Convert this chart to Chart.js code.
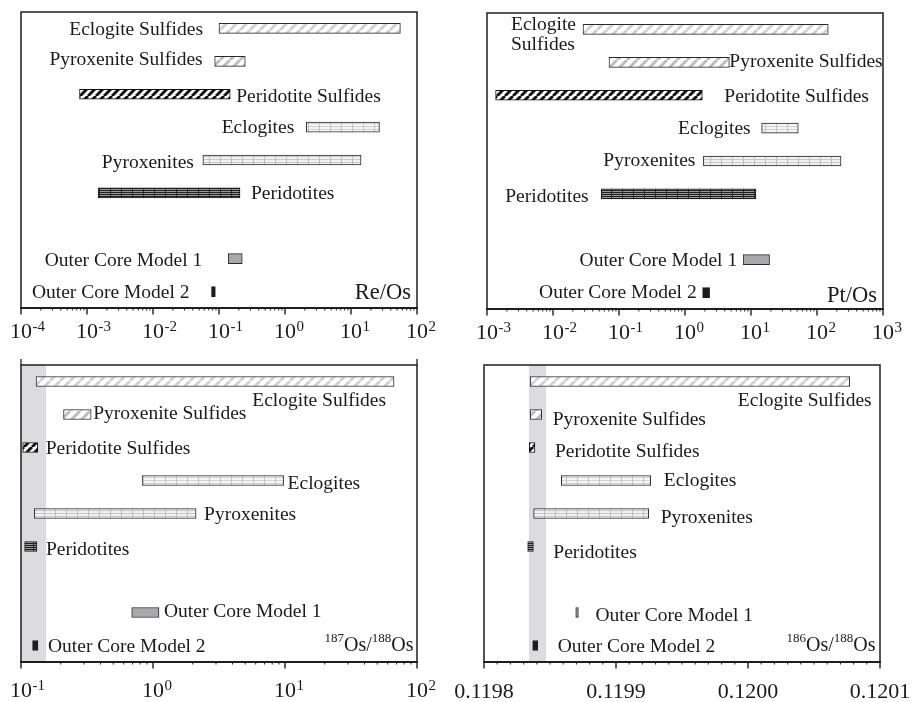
<!DOCTYPE html>
<html>
<head>
<meta charset="utf-8">
<script src="https://cdn.jsdelivr.net/npm/chart.js@4/dist/chart.umd.min.js"></script>
<style>
  html, body { margin: 0; padding: 0; background: #ffffff; }
  #wrap { position: relative; width: 915px; height: 702px; overflow: hidden; }
  #wrap canvas { position: absolute; }
</style>
</head>
<body>
<div id="wrap">
  <canvas id="cReOs"  width="457" height="351" style="left:0;top:0"></canvas>
  <canvas id="cPtOs"  width="458" height="351" style="left:457px;top:0"></canvas>
  <canvas id="cOs187" width="457" height="351" style="left:0;top:351px"></canvas>
  <canvas id="cOs186" width="470" height="351" style="left:445px;top:351px"></canvas>
</div>
<script>
// Rock / sulfide groups, top to bottom ('' is the spacer row above the core models)
const categories = ['Eclogite Sulfides', 'Pyroxenite Sulfides', 'Peridotite Sulfides',
  'Eclogites', 'Pyroxenites', 'Peridotites', '', 'Outer Core Model 1', 'Outer Core Model 2'];

// [min, max] ranges per group
const reOsRanges = [[0.1, 56], [0.086, 0.25], [0.00077, 0.148], [2.1, 27], [0.057, 14.2],
  [0.00147, 0.208], null, [0.138, 0.225], [0.077, 0.088]];
const ptOsRanges = [[0.0285, 148], [0.0705, 4.7], [0.00135, 1.83], [14.5, 52], [1.9, 231],
  [0.054, 11.9], null, [7.6, 19.1], [1.85, 2.36]];
const os187Ranges = [[0.13, 67], [0.21, 0.34], [0.103, 0.134], [0.826, 9.76], [0.126, 2.12],
  [0.1065, 0.132], null, [0.69, 1.11], [0.1224, 0.1345]];
const os186Ranges = [[0.119835, 0.120077], [0.119835, 0.1198437], [0.1198343, 0.1198386],
  [0.1198586, 0.1199263], [0.1198376, 0.1199248], [0.1198331, 0.1198374], null,
  [0.1198695, 0.1198715], [0.1198369, 0.1198407]];

// Primitive-mantle reference bands
const os187Band = [0.1, 0.155];
const os186Band = [0.119834, 0.119847];

// Axis tick labels
const reOsExponents = [-4, -3, -2, -1, 0, 1, 2];
const ptOsExponents = [-3, -2, -1, 0, 1, 2, 3];
const os187Exponents = [-1, 0, 1, 2];
const os186TickLabels = ['0.1198', '0.1199', '0.1200', '0.1201'];

// ---------- fills ----------
function tile(w, h, paint) {
  const c = document.createElement('canvas');
  c.width = w; c.height = h;
  const g = c.getContext('2d');
  paint(g, w, h);
  return g.createPattern(c, 'repeat');
}
function hatch(bg, fg, period, width) {
  return tile(period, period, (g, s) => {
    g.fillStyle = bg; g.fillRect(0, 0, s, s);
    g.strokeStyle = fg; g.lineWidth = width;
    for (const o of [-s, 0, s]) {
      g.beginPath(); g.moveTo(o, s); g.lineTo(o + s, 0); g.stroke();
    }
  });
}
function grid(bg, hLine, vLine, hStep, vStep) {
  return tile(vStep, hStep, (g, w, h) => {
    g.fillStyle = bg; g.fillRect(0, 0, w, h);
    g.fillStyle = hLine; g.fillRect(0, 0, w, 1);
    g.fillStyle = vLine; g.fillRect(0, 0, 1, h);
  });
}
const fills = [
  hatch('#ffffff', '#d0d0d0', 10, 3),
  hatch('#ffffff', '#bdbdbd', 10, 3),
  hatch('#ffffff', '#111111', 8, 3),
  grid('#f4f4f4', '#d2d2d2', '#c2c2c2', 3, 11),
  grid('#f1f1f1', '#c8c8c8', '#bcbcbc', 3, 11),
  grid('#9a9a9a', '#1e1e1e', '#2a2a2a', 2, 11),
  null,
  '#a9a9ab',
  '#1c1c1c'
];
const borders = ['#2a2a2a', '#2a2a2a', '#111111', '#2a2a2a', '#2a2a2a', '#1a1a1a', null, '#2a2a2a', '#1c1c1c'];

// ---------- label placement: [anchor (s=start,e=end), align, dx, dy, lineGap?] ----------
const layoutReOs = [['s','r',-16,0], ['s','r',-12,-3], ['e','l',6,1], ['s','r',-12,-1], ['s','r',-9,1.4],
  ['e','l',11,0], null, ['s','r',-26,0.5], ['s','r',-22,0]];
const layoutPtOs = [['s','l',-72,-5.5,19.3], ['e','l',0,-1.5], ['e','l',22,0], ['s','r',-11,-1], ['s','r',-8,-1.7],
  ['s','r',-12.7,1.3], null, ['s','r',-6,0], ['s','r',-6,-1]];
const layoutOs187 = [['e','r',-8,18.5], ['e','l',2,-1.5], ['e','l',8,0], ['e','l',4,2.5], ['e','l',8,0],
  ['e','l',9,2], null, ['e','l',5,-2], ['e','l',10,0]];
const layoutOs186 = [['e','r',22,17.7], ['e','l',11,4], ['e','l',20,3], ['e','l',13,-1], ['e','l',12,3],
  ['e','l',20,5], null, ['e','l',17,2], ['e','l',20,0.5]];

const SERIF = '"Liberation Serif", "Times New Roman", serif';
const INK = '#1a1a1a';

function logTickMarks(lo, hi) {
  const out = [];
  for (let e = lo; e < hi; e++) for (let k = 1; k < 10; k++) out.push({ v: k * Math.pow(10, e), major: k === 1 });
  out.push({ v: Math.pow(10, hi), major: true });
  return out;
}
function linTickMarks(min, step, n, every) {
  const out = [];
  for (let i = 0; i <= n; i++) out.push({ v: min + i * step, major: i % every === 0 });
  return out;
}

function drawRich(ctx, parts, x, y, size, supSize, align) {
  let w = 0;
  for (const p of parts) { ctx.font = (p.sup ? supSize : size) + 'px ' + SERIF; p.w = ctx.measureText(p.t).width; w += p.w; }
  let cx = align === 'right' ? x - w : x;
  ctx.textAlign = 'left';
  for (const p of parts) {
    ctx.font = (p.sup ? supSize : size) + 'px ' + SERIF;
    ctx.fillText(p.t, cx, p.sup ? y - p.raise : y);
    cx += p.w;
  }
}

const panelPlugin = {
  id: 'panelPlugin',
  beforeDatasetsDraw(chart) {
    const cfg = chart.options.plugins.panelPlugin;
    const { ctx, chartArea: a } = chart;
    const x = chart.scales.x;
    if (cfg.band) {
      const x0 = x.getPixelForValue(cfg.band[0]);
      const x1 = x.getPixelForValue(cfg.band[1]);
      ctx.save();
      ctx.fillStyle = '#dcdcdf';
      ctx.fillRect(x0, a.top, x1 - x0, a.bottom - a.top);
      ctx.restore();
    }
  },
  afterDatasetsDraw(chart) {
    const cfg = chart.options.plugins.panelPlugin;
    const { ctx, chartArea: a } = chart;
    const x = chart.scales.x;
    ctx.save();
    // frame
    ctx.strokeStyle = '#1e1e1e';
    ctx.lineWidth = 1.5;
    ctx.strokeRect(a.left, a.top, a.right - a.left, a.bottom - a.top);
    ctx.lineWidth = 2;
    ctx.beginPath(); ctx.moveTo(a.left - 1, a.bottom); ctx.lineTo(a.right + 1, a.bottom); ctx.stroke();
    if (cfg.cornerTicks) {
      ctx.lineWidth = 1.3;
      for (const px of [a.left, a.right]) { ctx.beginPath(); ctx.moveTo(px, a.top); ctx.lineTo(px, a.top - 6); ctx.stroke(); }
    }
    // tick marks
    for (const t of cfg.tickMarks) {
      const px = x.getPixelForValue(t.v);
      ctx.lineWidth = t.major ? 1.4 : 1;
      ctx.beginPath();
      ctx.moveTo(px, a.bottom);
      ctx.lineTo(px, a.bottom + (t.major ? 6.5 : 2.5));
      ctx.stroke();
    }
    // tick labels
    ctx.fillStyle = INK;
    ctx.textBaseline = 'alphabetic';
    const ty = a.bottom + cfg.labelGap;
    if (cfg.exponents) {
      for (const e of cfg.exponents) {
        const px = x.getPixelForValue(Math.pow(10, e));
        ctx.font = '22px ' + SERIF;
        const w = ctx.measureText('10').width;
        ctx.textAlign = 'left';
        ctx.fillText('10', px - w / 2, ty);
        ctx.font = '15px ' + SERIF;
        ctx.fillText(String(e), px + w / 2 + 0.5, ty - 7);
      }
    } else {
      ctx.font = '22px ' + SERIF;
      ctx.textAlign = 'center';
      for (const s of cfg.tickLabels) ctx.fillText(s, x.getPixelForValue(parseFloat(s)), ty);
    }
    // group labels next to their bars
    const meta = chart.getDatasetMeta(0);
    const size = 19.5;
    ctx.font = size + 'px ' + SERIF;
    chart.data.labels.forEach((label, i) => {
      const spec = cfg.layout[i];
      const el = meta.data[i];
      if (!spec || !el || chart.data.datasets[0].data[i] == null) return;
      const start = Math.min(el.x, el.base);
      const end = Math.max(el.x, el.base);
      const px = (spec[0] === 's' ? start : end) + spec[2];
      const cy = el.y + spec[3] + 0.331 * size;
      ctx.textAlign = spec[1] === 'r' ? 'right' : 'left';
      if (spec[4]) {
        label.split(' ').forEach((line, k) => ctx.fillText(line, px, cy + k * spec[4]));
      } else {
        ctx.fillText(label, px, cy);
      }
    });
    // ratio name in the lower right corner
    drawRich(ctx, cfg.title, a.right + cfg.titleDx, a.bottom + cfg.titleDy, cfg.titleSize, 13, 'right');
    ctx.restore();
  }
};

function makePanel(id, ranges, xScale, padding, extra) {
  return new Chart(document.getElementById(id), {
    type: 'bar',
    data: {
      labels: categories,
      datasets: [{
        data: ranges,
        backgroundColor: fills,
        borderColor: borders,
        borderWidth: 1,
        borderSkipped: false,
        barThickness: 10
      }]
    },
    options: {
      indexAxis: 'y',
      responsive: false,
      animation: false,
      events: [],
      layout: { padding },
      plugins: {
        legend: { display: false },
        tooltip: { enabled: false },
        panelPlugin: extra
      },
      scales: {
        x: Object.assign({ display: false }, xScale),
        y: { type: 'category', display: false, offset: true, grid: { display: false } }
      }
    },
    plugins: [panelPlugin]
  });
}

makePanel('cReOs', reOsRanges, { type: 'logarithmic', min: 1e-4, max: 1e2 },
  { left: 21, right: 40, top: 12, bottom: 43 },
  { tickMarks: logTickMarks(-4, 2), exponents: reOsExponents, labelGap: 30, layout: layoutReOs,
    title: [{ t: 'Re/Os' }], titleSize: 22.5, titleDx: -6, titleDy: -9.5 });

makePanel('cPtOs', ptOsRanges, { type: 'logarithmic', min: 1e-3, max: 1e3 },
  { left: 30, right: 32, top: 13, bottom: 42 },
  { tickMarks: logTickMarks(-3, 3), exponents: ptOsExponents, labelGap: 29.5, layout: layoutPtOs,
    title: [{ t: 'Pt/Os' }], titleSize: 22.5, titleDx: -6, titleDy: -7.5 });

makePanel('cOs187', os187Ranges, { type: 'logarithmic', min: 0.1, max: 100 },
  { left: 21, right: 40, top: 14, bottom: 40 },
  { tickMarks: logTickMarks(-1, 2), exponents: os187Exponents, labelGap: 35, layout: layoutOs187,
    band: os187Band, cornerTicks: true,
    title: [{ t: '187', sup: true, raise: 9 }, { t: 'Os/' }, { t: '188', sup: true, raise: 9 }, { t: 'Os' }],
    titleSize: 20, titleDx: -3.5, titleDy: -11 });

makePanel('cOs186', os186Ranges, { type: 'linear', min: 0.1198, max: 0.1201 },
  { left: 39, right: 35, top: 14, bottom: 40 },
  { tickMarks: linTickMarks(0.1198, 0.00001, 30, 10), tickLabels: os186TickLabels, labelGap: 36, layout: layoutOs186,
    band: os186Band,
    title: [{ t: '186', sup: true, raise: 9 }, { t: 'Os/' }, { t: '188', sup: true, raise: 9 }, { t: 'Os' }],
    titleSize: 20, titleDx: -4.5, titleDy: -11 });
</script>
</body>
</html>
